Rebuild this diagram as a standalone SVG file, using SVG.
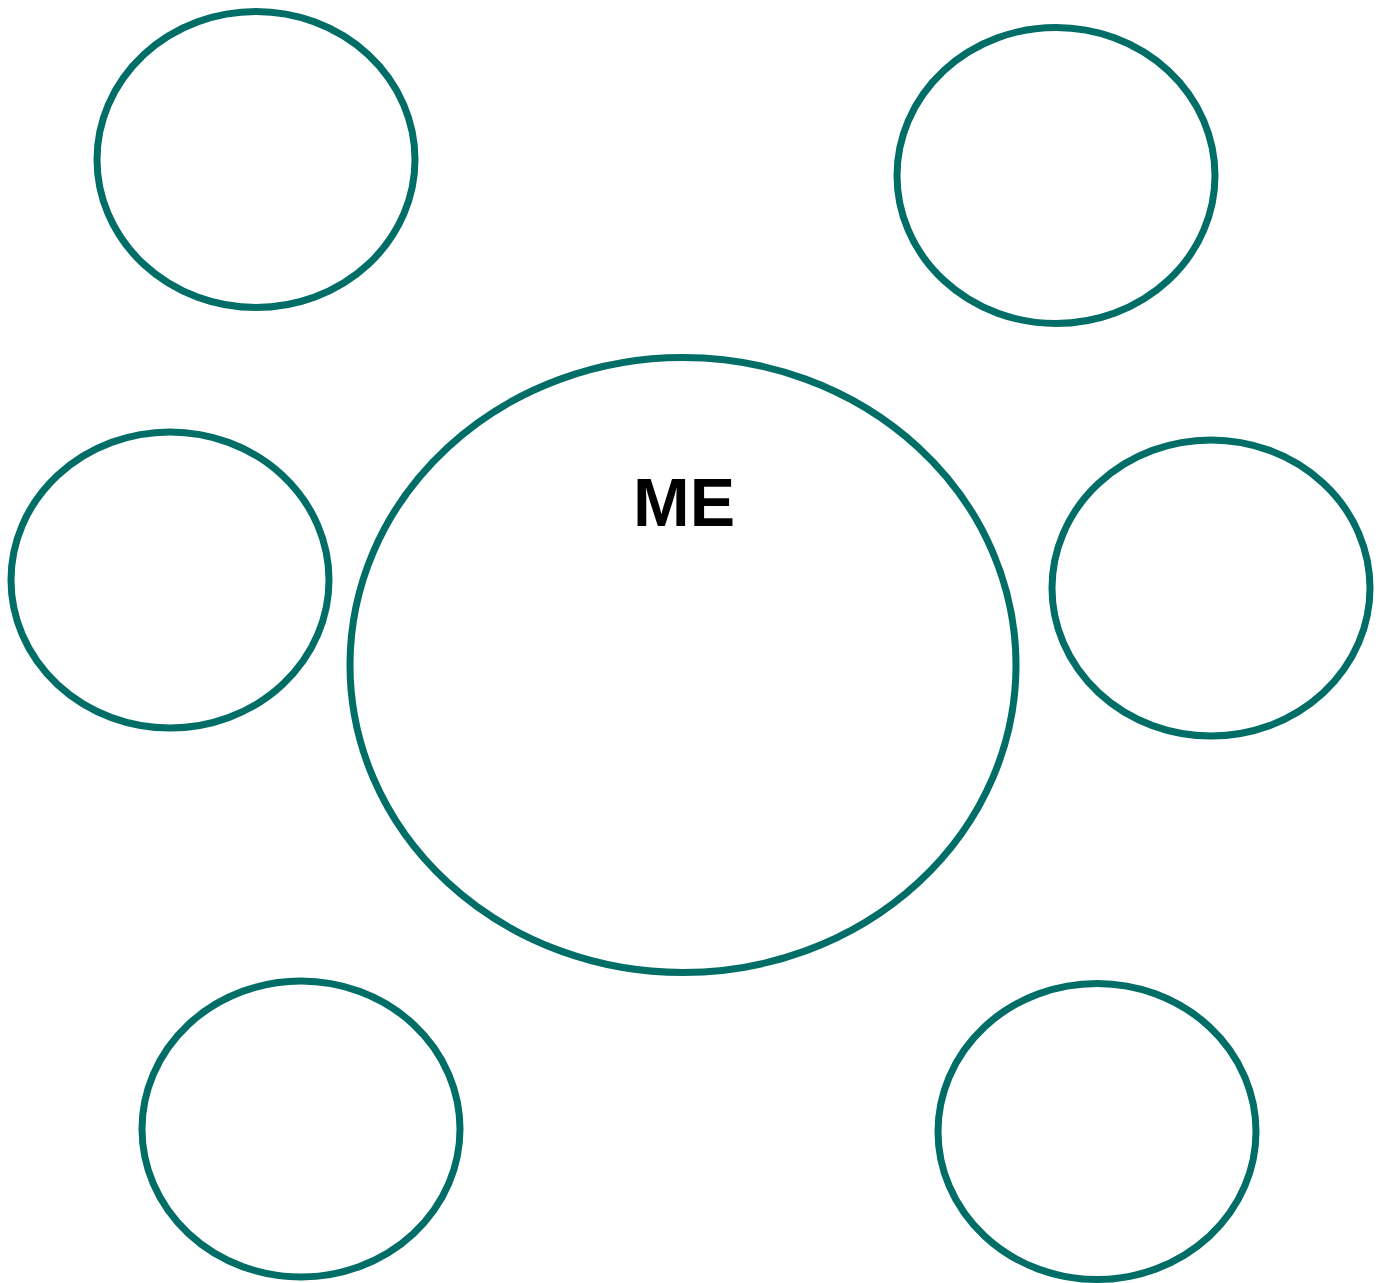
<svg xmlns="http://www.w3.org/2000/svg" width="1381" height="1283" viewBox="0 0 1381 1283">
<style>
.n{fill:#fff;stroke:#006e67;stroke-width:7}
.t{font-family:"Liberation Sans",Arial,sans-serif;font-weight:bold;font-size:68px;fill:#000;text-anchor:middle}
</style>
<rect width="1381" height="1283" fill="#fff"/>
<g id="connectors"></g>
<g id="n-tl"><ellipse class="n" cx="256" cy="159.5" rx="159" ry="148"/></g>
<g id="n-tr"><ellipse class="n" cx="1056" cy="175.5" rx="159" ry="148"/></g>
<g id="n-ml"><ellipse class="n" cx="170" cy="580" rx="159" ry="148"/></g>
<g id="n-mr"><ellipse class="n" cx="1211" cy="588" rx="159" ry="148"/></g>
<g id="n-bl"><ellipse class="n" cx="301" cy="1129" rx="159" ry="148"/></g>
<g id="n-br"><ellipse class="n" cx="1097" cy="1131.5" rx="159" ry="148"/></g>
<g id="n-me"><ellipse class="n" cx="683" cy="665" rx="333" ry="307.5"/>
<text class="t" x="684" y="526">ME</text></g>
</svg>
